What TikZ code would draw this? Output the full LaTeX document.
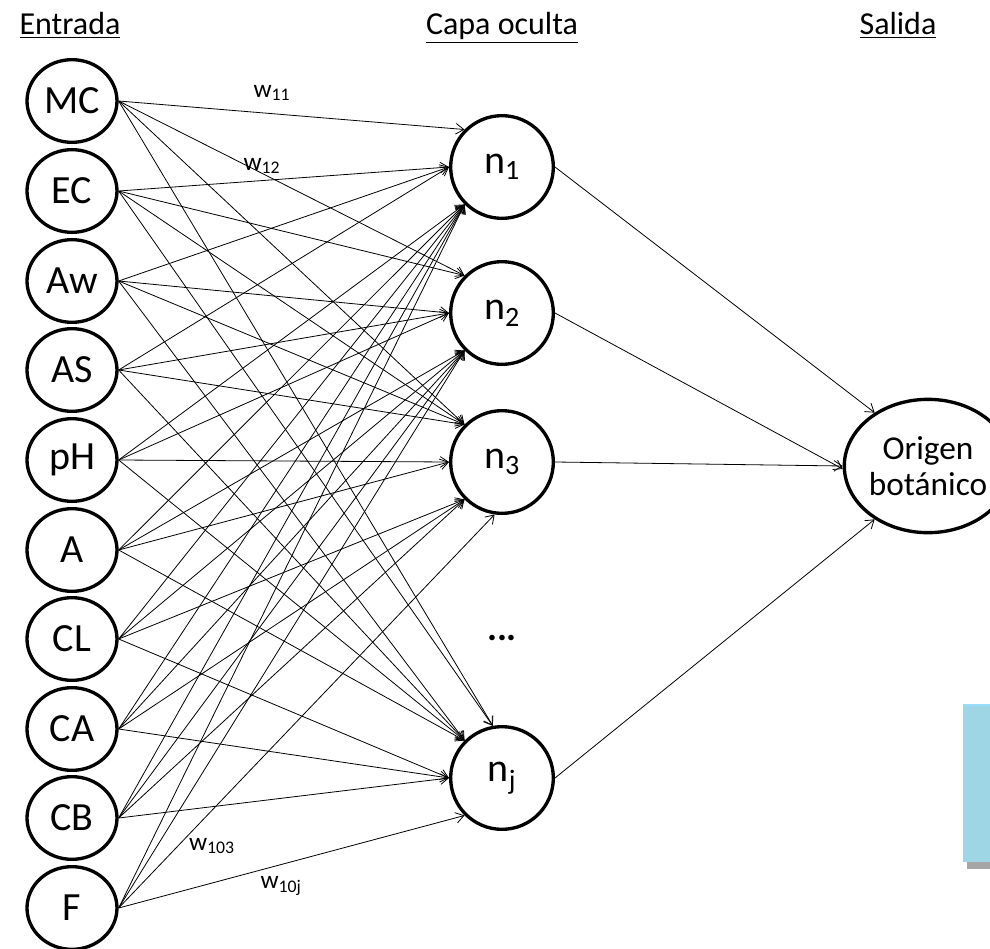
\documentclass[tikz,border=0pt]{standalone}
\usepackage{fontspec}
\setmainfont{Carlito}
\usetikzlibrary{arrows.meta,shapes.geometric}

\tikzset{every picture/.style={line width=0.75pt}}
\tikzset{
  inp/.style={draw,ellipse,line width=2.5pt,minimum width=67.5pt,minimum height=62pt,inner sep=0pt,font=\fontsize{30}{33}\selectfont},
  hid/.style={draw,circle,line width=2.5pt,minimum size=77pt,inner sep=0pt,font=\fontsize{30}{33}\selectfont},
  outp/.style={draw,ellipse,line width=2.5pt,minimum width=108pt,minimum height=100pt,inner sep=0pt,align=center,font=\fontsize{25}{27}\selectfont},
  wlink/.style={-{Straight Barb[length=6pt,width=8pt]},line width=0.6pt},
  hdr/.style={anchor=base,font=\fontsize{24}{28}\selectfont},
  wlab/.style={font=\fontsize{19}{21}\selectfont}
}

\begin{document}
\begin{tikzpicture}[x=0.75pt,y=0.75pt,yscale=-1,xscale=1]
\useasboundingbox (0,0) rectangle (990,949);

%Shape: Rectangle (cut at the right edge)
\fill [black!35] (967,709) rectangle (1000,869) ;
\fill [fill={rgb, 255:red, 158; green, 214; blue, 230 }] (963,704) rectangle (1000,862) ;
\draw [white!60!cyan, line width=1pt] (964,705) -- (1000,705) ;

% Text Node
\node [hdr] (hin) at (70,35) {\underline{Entrada}};
% Text Node
\node [hdr] (hhid) at (502,35) {\underline{Capa oculta}};
% Text Node
\node [hdr] (hout) at (898,35) {\underline{Salida}};

%Shape: Circle (inputs)
\node [inp] (MC) at (72,101) {MC};
\node [inp] (EC) at (72,191) {EC};
\node [inp] (Aw) at (72,281) {Aw};
\node [inp] (AS) at (72,370) {AS};
\node [inp] (pH) at (72,460) {pH};
\node [inp] (A)  at (72,550) {A};
\node [inp] (CL) at (72,639) {CL};
\node [inp] (CA) at (72,729) {CA};
\node [inp] (CB) at (72,818) {CB};
\node [inp] (F)  at (72,908) {F};

%Shape: Circle (hidden layer)
\node [hid] (n1) at (502,167) {n\textsubscript{1}};
\node [hid] (n2) at (502,313) {n\textsubscript{2}};
\node [hid] (n3) at (502,462) {n\textsubscript{3}};
\node [font=\fontsize{28}{30}\selectfont\bfseries] (dots) at (502,638) {...};
\node [hid] (nj) at (502,778) {n\textsubscript{j}};

%Shape: Circle (output)
\node [outp] (out) at (928,466) {Origen\\botánico};

%Straight Lines into n1
\draw [wlink] (MC.east) -- (n1.135) ;
\draw [wlink] (EC.east) -- (n1.180) ;
\draw [wlink] (Aw.east) -- (n1.180) ;
\draw [wlink] (AS.east) -- (n1.180) ;
\draw [wlink] (pH.east) -- (n1.225) ;
\draw [wlink] (A.east)  -- (n1.225) ;
\draw [wlink] (CL.east) -- (n1.225) ;
\draw [wlink] (CA.east) -- (n1.225) ;
\draw [wlink] (CB.east) -- (n1.225) ;
\draw [wlink] (F.east)  -- (n1.225) ;
%Straight Lines into n2
\draw [wlink] (MC.east) -- (n2.135) ;
\draw [wlink] (EC.east) -- (n2.135) ;
\draw [wlink] (Aw.east) -- (n2.180) ;
\draw [wlink] (AS.east) -- (n2.180) ;
\draw [wlink] (pH.east) -- (n2.180) ;
\draw [wlink] (A.east)  -- (n2.225) ;
\draw [wlink] (CL.east) -- (n2.225) ;
\draw [wlink] (CA.east) -- (n2.225) ;
\draw [wlink] (CB.east) -- (n2.225) ;
\draw [wlink] (F.east)  -- (n2.225) ;
%Straight Lines into n3
\draw [wlink] (MC.east) -- (n3.135) ;
\draw [wlink] (EC.east) -- (n3.135) ;
\draw [wlink] (Aw.east) -- (n3.135) ;
\draw [wlink] (AS.east) -- (n3.135) ;
\draw [wlink] (pH.east) -- (n3.180) ;
\draw [wlink] (A.east)  -- (n3.180) ;
\draw [wlink] (CL.east) -- (n3.225) ;
\draw [wlink] (CA.east) -- (n3.225) ;
\draw [wlink] (CB.east) -- (n3.225) ;
\draw [wlink] (F.east)  -- (n3.262) ;
%Straight Lines into nj
\draw [wlink] (MC.east) -- (nj.100) ;
\draw [wlink] (EC.east) -- (nj.100) ;
\draw [wlink] (Aw.east) -- (nj.135) ;
\draw [wlink] (AS.east) -- (nj.135) ;
\draw [wlink] (pH.east) -- (nj.135) ;
\draw [wlink] (A.east)  -- (nj.135) ;
\draw [wlink] (CL.east) -- (nj.180) ;
\draw [wlink] (CA.east) -- (nj.180) ;
\draw [wlink] (CB.east) -- (nj.180) ;
\draw [wlink] (F.east)  -- (nj.225) ;

%Straight Lines into the output
\draw [wlink] (n1.east) -- (out.135) ;
\draw [wlink] (n2.east) -- (out.182) ;
\draw [wlink] (n3.east) -- (out.180) ;
\draw [wlink] (nj.east) -- (out.225) ;

% Text Node
\node [wlab] (w11) at (272,93) {w\textsubscript{11}};
% Text Node
\node [wlab] (w12) at (262,166) {w\textsubscript{12}};
% Text Node
\node [wlab] (w103) at (212,846) {w\textsubscript{103}};
% Text Node
\node [wlab] (w10j) at (281,886) {w\textsubscript{10j}};

\end{tikzpicture}
\end{document}
